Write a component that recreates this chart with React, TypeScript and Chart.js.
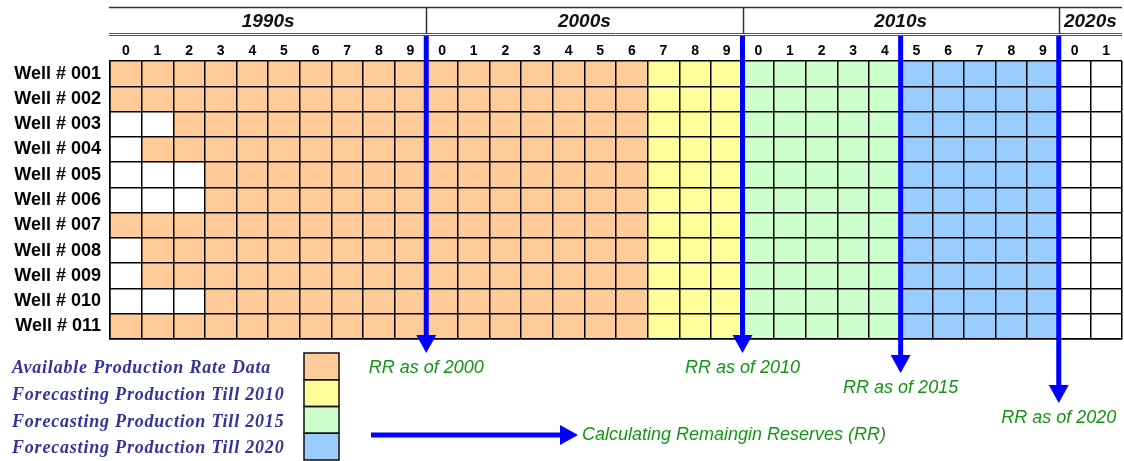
import React, { useEffect, useRef } from "react";
import { Chart, registerables } from "chart.js";

Chart.register(...registerables);

// ---------------- data ----------------
const wells = [
  "Well # 001", "Well # 002", "Well # 003", "Well # 004", "Well # 005", "Well # 006",
  "Well # 007", "Well # 008", "Well # 009", "Well # 010", "Well # 011",
];
// first year with available production-rate data for each well
const firstDataYear = [1990, 1990, 1992, 1991, 1993, 1993, 1990, 1991, 1991, 1993, 1990];
const forecast2010Start = 2007;
const forecast2015Start = 2010;
const forecast2020Start = 2015;
const forecastEnd = 2020;

const axisStartYear = 1990;
const axisEndYear = 2022;
const yearDigits = [
  "0", "1", "2", "3", "4", "5", "6", "7", "8", "9",
  "0", "1", "2", "3", "4", "5", "6", "7", "8", "9",
  "0", "1", "2", "3", "4", "5", "6", "7", "8", "9",
  "0", "1",
];
const decadeLabels = ["1990s", "2000s", "2010s", "2020s"];
const decadeStarts = [1990, 2000, 2010, 2020];
const decadeEnds = [2000, 2010, 2020, 2022];

const rrYears = [2000, 2010, 2015, 2020];
const rrLabels = ["RR as of 2000", "RR as of 2010", "RR as of 2015", "RR as of 2020"];

const seriesLabels = [
  "Available Production Rate Data",
  "Forecasting Production Till 2010",
  "Forecasting Production Till 2015",
  "Forecasting Production Till 2020",
];
const seriesColors = ["#FFCC99", "#FFFF99", "#CCFFCC", "#99CCFF"];
const processLabel = "Calculating Remaingin Reserves (RR)";

// ---------------- styles ----------------
const SANS = "'Liberation Sans', Arial, sans-serif";
const SERIF = "'Liberation Serif', 'Times New Roman', serif";
const ARROW_BLUE = "#0000FF";
const RR_GREEN = "#169416";
const LEGEND_NAVY = "#333399";
const arrowDrops = [14, 14, 34, 64]; // arrow tip distance below grid bottom

const overlayPlugin = {
  id: "wellOverlay",
  afterDraw(chart: any) {
    const ctx: CanvasRenderingContext2D = chart.ctx;
    const xs = chart.scales.x;
    const area = chart.chartArea;
    const line = (x1: number, y1: number, x2: number, y2: number) => {
      ctx.beginPath();
      ctx.moveTo(x1, y1);
      ctx.lineTo(x2, y2);
      ctx.stroke();
    };
    ctx.save();

    // ---- decade header ----
    const headTop = 7.5;
    const dblA = 33.5;
    const dblB = 35.5;
    ctx.strokeStyle = "#333";
    ctx.lineWidth = 1.5;
    line(area.left - 1, headTop, area.right, headTop);
    ctx.lineWidth = 1;
    ctx.strokeStyle = "#555";
    line(area.left - 1, dblA, area.right, dblA);
    line(area.left - 1, dblB, area.right, dblB);
    ctx.strokeStyle = "#333";
    ctx.lineWidth = 1.5;
    decadeStarts.slice(1).forEach((yr) => {
      const px = Math.round(xs.getPixelForValue(yr)) + 0.5;
      line(px, headTop, px, dblA);
    });
    ctx.fillStyle = "#111";
    ctx.font = `italic bold 19px ${SANS}`;
    ctx.textAlign = "center";
    ctx.textBaseline = "middle";
    decadeLabels.forEach((lab, i) => {
      const cx = (xs.getPixelForValue(decadeStarts[i]) + xs.getPixelForValue(decadeEnds[i])) / 2;
      ctx.fillText(lab, cx, 21.5);
    });

    // ---- RR arrows ----
    ctx.strokeStyle = ARROW_BLUE;
    ctx.fillStyle = ARROW_BLUE;
    rrYears.forEach((yr, i) => {
      const px = xs.getPixelForValue(yr);
      const tip = area.bottom + arrowDrops[i];
      ctx.lineWidth = 5;
      line(px, 36, px, tip - 12);
      ctx.beginPath();
      ctx.moveTo(px - 10, tip - 18);
      ctx.lineTo(px + 10, tip - 18);
      ctx.lineTo(px, tip);
      ctx.closePath();
      ctx.fill();
    });
    ctx.fillStyle = RR_GREEN;
    ctx.font = `italic 18px ${SANS}`;
    ctx.textAlign = "center";
    ctx.textBaseline = "middle";
    rrYears.forEach((yr, i) => {
      const px = xs.getPixelForValue(yr);
      const tip = area.bottom + arrowDrops[i];
      ctx.fillText(rrLabels[i], px, tip + 15);
    });

    // ---- legend ----
    const sw = { left: 304, top: 353, w: 35, h: 26.75 };
    const datasets = chart.data.datasets;
    datasets.forEach((ds: any, i: number) => {
      const top = sw.top + i * sw.h;
      ctx.fillStyle = ds.backgroundColor;
      ctx.fillRect(sw.left, top, sw.w, sw.h);
    });
    ctx.strokeStyle = "#111";
    ctx.lineWidth = 1.5;
    datasets.forEach((_: any, i: number) => {
      ctx.strokeRect(sw.left, sw.top + i * sw.h, sw.w, sw.h);
    });
    ctx.fillStyle = LEGEND_NAVY;
    ctx.font = `italic bold 18px ${SERIF}`;
    ctx.textAlign = "left";
    ctx.textBaseline = "middle";
    (ctx as any).letterSpacing = "0.8px";
    datasets.forEach((ds: any, i: number) => {
      ctx.fillText(ds.label, 12, sw.top + i * sw.h + sw.h / 2 + 2);
    });
    (ctx as any).letterSpacing = "0px";

    // ---- process arrow ----
    const ay = 435;
    ctx.strokeStyle = ARROW_BLUE;
    ctx.fillStyle = ARROW_BLUE;
    ctx.lineWidth = 5;
    line(371, ay, 566, ay);
    ctx.beginPath();
    ctx.moveTo(560, ay - 10);
    ctx.lineTo(578, ay);
    ctx.lineTo(560, ay + 10);
    ctx.closePath();
    ctx.fill();
    ctx.fillStyle = RR_GREEN;
    ctx.font = `italic 18px ${SANS}`;
    ctx.textAlign = "left";
    ctx.textBaseline = "middle";
    ctx.fillText(processLabel, 582, ay);

    ctx.restore();
  },
};

export default function App() {
  const ref = useRef<HTMLCanvasElement | null>(null);

  useEffect(() => {
    document.body.style.margin = "0";
    if (!ref.current) return;

    const spans = [
      wells.map((_, i) => [firstDataYear[i], forecast2010Start]),
      wells.map(() => [forecast2010Start, forecast2015Start]),
      wells.map(() => [forecast2015Start, forecast2020Start]),
      wells.map(() => [forecast2020Start, forecastEnd]),
    ];

    const chart = new Chart(ref.current, {
      type: "bar",
      data: {
        labels: wells,
        datasets: spans.map((data, i) => ({
          label: seriesLabels[i],
          data: data as any,
          backgroundColor: seriesColors[i],
          borderWidth: 0,
          barPercentage: 1,
          categoryPercentage: 1,
          grouped: false,
        })),
      },
      options: {
        indexAxis: "y",
        responsive: false,
        animation: false,
        devicePixelRatio: 1,
        layout: { padding: { top: 35, right: 2, bottom: 122, left: 0 } },
        plugins: {
          legend: { display: false },
          tooltip: { enabled: false },
          title: { display: false },
        },
        scales: {
          x: {
            type: "linear",
            position: "bottom",
            min: axisStartYear,
            max: axisEndYear,
            ticks: { display: false, stepSize: 1 },
            grid: { color: "#000", lineWidth: 1.5, drawTicks: false, z: 1 },
            border: { display: true, color: "#000", width: 1.5, z: 1 },
            afterFit: (s: any) => {
              s.height = 0;
            },
          },
          xTop: {
            type: "category",
            position: "top",
            labels: yearDigits,
            offset: true,
            grid: { display: false, drawTicks: false },
            border: { display: false },
            ticks: {
              color: "#000",
              font: { family: SANS, size: 14, weight: "bold" },
              padding: 1,
              maxRotation: 0,
              autoSkip: false,
            },
            afterFit: (s: any) => {
              s.height = 26;
            },
          },
          y: {
            type: "category",
            position: "left",
            grid: { color: "#000", lineWidth: 1.5, drawTicks: false, offset: true, z: 1 },
            border: { display: true, color: "#000", width: 1.5, z: 1 },
            ticks: {
              color: "#000",
              font: { family: SANS, size: 18, weight: "bold" },
              padding: 9,
              autoSkip: false,
            },
            afterFit: (s: any) => {
              s.width = 110;
            },
          },
        },
      } as any,
      plugins: [overlayPlugin],
    });

    return () => chart.destroy();
  }, []);

  return (
    <div style={{ width: 1124, height: 461 }}>
      <canvas ref={ref} width={1124} height={461} style={{ display: "block" }} />
    </div>
  );
}
